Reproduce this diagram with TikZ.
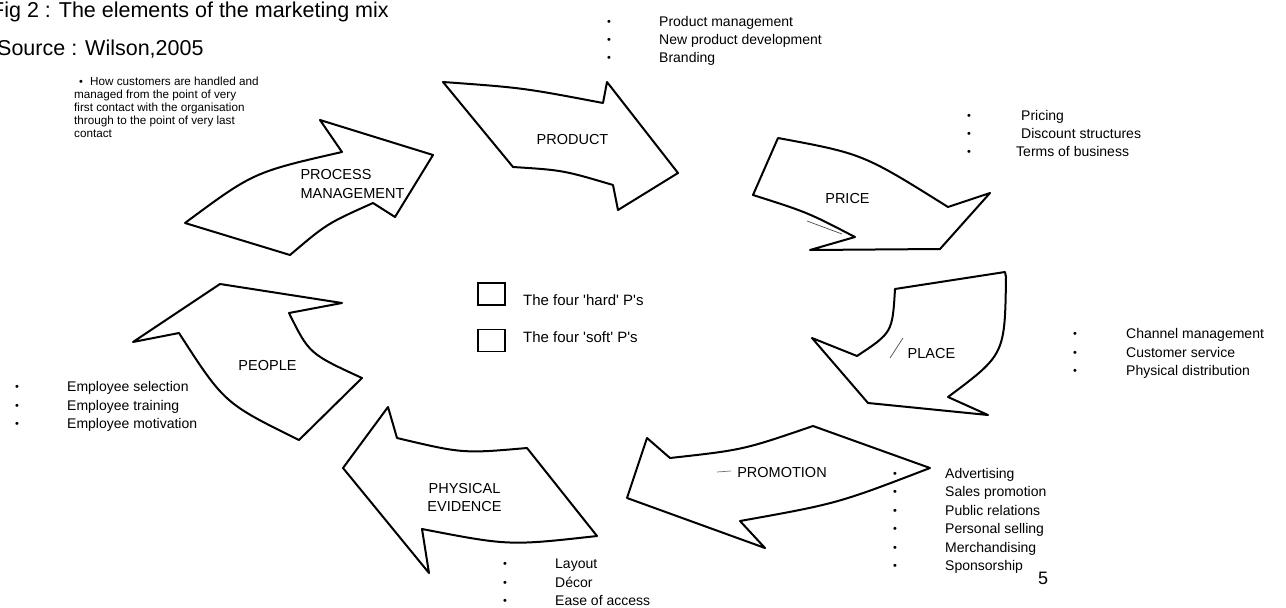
\documentclass[tikz,border=0pt]{standalone}
\usepackage{fontspec}
\setmainfont{Liberation Sans}
\begin{document}
\begin{tikzpicture}[x=1pt,y=-1pt,
  pshape/.style={draw=black, line width=2pt, line join=round, fill=white},
  lbl/.style={font=\fontsize{14.5}{19}\selectfont, inner sep=0pt},
  item/.style={font=\fontsize{14}{16}\selectfont, anchor=west, inner sep=0pt, text height=10.5pt, text depth=3.5pt},
  note/.style={font=\fontsize{11.7}{13}\selectfont, anchor=west, inner sep=0pt, text height=8.8pt, text depth=2.9pt},
  dot/.style={font=\fontsize{11}{12}\selectfont, inner sep=0pt},
  legbox/.style={draw=black, line width=1.4pt, minimum width=27pt, minimum height=22pt, inner sep=0pt},
  legtext/.style={font=\fontsize{15}{17}\selectfont, anchor=west, inner sep=0pt, text height=11pt, text depth=3.7pt},
  stray/.style={draw=black!70, line width=0.7pt}]
\useasboundingbox (0,0) rectangle (1286,608);

% ---------- arrows ----------
% PROCESS MANAGEMENT
\draw[pshape] (185,223) .. controls (253.5,172.2) .. (342,152) -- (320,120) -- (433,155)
  -- (395,217) -- (373,203) .. controls (326.8,223.7) .. (290,255) -- cycle;
% PRODUCT
\draw[pshape] (443,82) .. controls (523,87.8) .. (603,103) -- (607,82) -- (678,173)
  -- (618,210) -- (613,185) .. controls (563,170.2) .. (513,167) -- cycle;
% PRICE
\draw[pshape] (778,138) .. controls (863,153.8) .. (948,207) -- (990,193) -- (940,249)
  -- (810,250) -- (855,237) .. controls (807.6,212.4) .. (753,195) -- cycle;
% PLACE
\draw[pshape] (1005,272) -- (895,289) .. controls (892.4,332.5) .. (857,356) -- (812,338)
  -- (868,403) -- (988,415) -- (948,397) .. controls (1004.9,354.5) .. (1006,277) -- cycle;
% PROMOTION
\draw[pshape] (647,438) -- (670,458) .. controls (743.2,449.9) .. (813,426) -- (930,468)
  .. controls (837.6,503.5) .. (740,521) -- (765,548) -- (627,498) -- cycle;
% PHYSICAL EVIDENCE
\draw[pshape] (388,407) -- (397,438) .. controls (462.8,453.6) .. (527,448) -- (597,536)
  .. controls (509,545.8) .. (422,529) -- (429,573) -- (343,468) -- cycle;
% PEOPLE
\draw[pshape] (220,284) -- (342,303) -- (289,313) .. controls (309.2,353.7) .. (362,378)
  -- (299,440) .. controls (224.3,403.2) .. (179,333) -- (133,342) -- cycle;

% stray scan marks
\draw[stray] (903,338) -- (890,358);
\draw[stray] (807,221) -- (842,234);
\draw[stray, draw=blue!50!black!60] (717,472) -- (731,471);

% ---------- arrow labels ----------
\node[lbl, align=left] (procl) at (352.5,184) {PROCESS\\MANAGEMENT};
\node[lbl] (prodl) at (572.5,140) {PRODUCT};
\node[lbl] (pricel) at (847.5,199) {PRICE};
\node[lbl] (placel) at (931.5,354) {PLACE};
\node[lbl] (peoplel) at (267.5,366) {PEOPLE};
\node[lbl, align=center, font=\fontsize{14.5}{18}\selectfont] (physl) at (464.5,498) {PHYSICAL\\EVIDENCE};
\node[lbl] (promol) at (782,473) {PROMOTION};

% ---------- title ----------
\node[font=\fontsize{21.5}{24}\selectfont, anchor=base west, inner sep=0pt] (title) at (-9,17) {Fig 2 : The elements of the marketing mix};
\node[font=\fontsize{21.5}{24}\selectfont, anchor=base west, inner sep=0pt] (source) at (-3,55) {Source : Wilson,2005};

% ---------- process note ----------
\node[dot] (noteb) at (81,83) {•};
\node[note] (note0) at (90,83) {How customers are handled and};
\foreach \t [count=\i] in {managed from the point of very,first contact with the organisation,through to the point of very last,contact}
  \node[note] (note\i) at (74,83+13*\i) {\t};

% ---------- lists ----------
\foreach \t [count=\i from 0] in {Product management,New product development,Branding}{
  \node[dot] (prodb\i) at (609,23+18*\i) {•};
  \node[item] (prod\i) at (659,23+18*\i) {\t};
}
\foreach \t/\xx [count=\i from 0] in {Pricing/1021,Discount structures/1021,Terms of business/1016}{
  \node[dot] (priceb\i) at (969,117+18*\i) {•};
  \node[item] (price\i) at (\xx,117+18*\i) {\t};
}
\foreach \t [count=\i from 0] in {Channel management,Customer service,Physical distribution}{
  \node[dot] (placeb\i) at (1075,335+18.5*\i) {•};
  \node[item] (place\i) at (1126,335+18.5*\i) {\t};
}
\foreach \t [count=\i from 0] in {Employee selection,Employee training,Employee motivation}{
  \node[dot] (peopleb\i) at (17,388+18.5*\i) {•};
  \node[item] (people\i) at (67,388+18.5*\i) {\t};
}
\foreach \t [count=\i from 0] in {Layout,Décor,Ease of access}{
  \node[dot] (physb\i) at (505,565+18.5*\i) {•};
  \node[item] (phys\i) at (555,565+18.5*\i) {\t};
}
\foreach \t [count=\i from 0] in {Advertising,Sales promotion,Public relations,Personal selling,Merchandising,Sponsorship}{
  \node[dot] (promob\i) at (895,475+18.4*\i) {•};
  \node[item] (promo\i) at (945,475+18.4*\i) {\t};
}

% ---------- legend ----------
\node[legbox] (hardbox) at (491.5,294) {};
\node[legbox] (softbox) at (491.5,340.5) {};
\node[legtext] (hardtxt) at (523,302) {The four \textquotesingle hard\textquotesingle{} P\textquotesingle s};
\node[legtext] (softtxt) at (523,339) {The four \textquotesingle soft\textquotesingle{} P\textquotesingle s};

% page number
\node[font=\fontsize{18}{20}\selectfont, inner sep=0pt] (pagenum) at (1043,578) {5};
\end{tikzpicture}
\end{document}
